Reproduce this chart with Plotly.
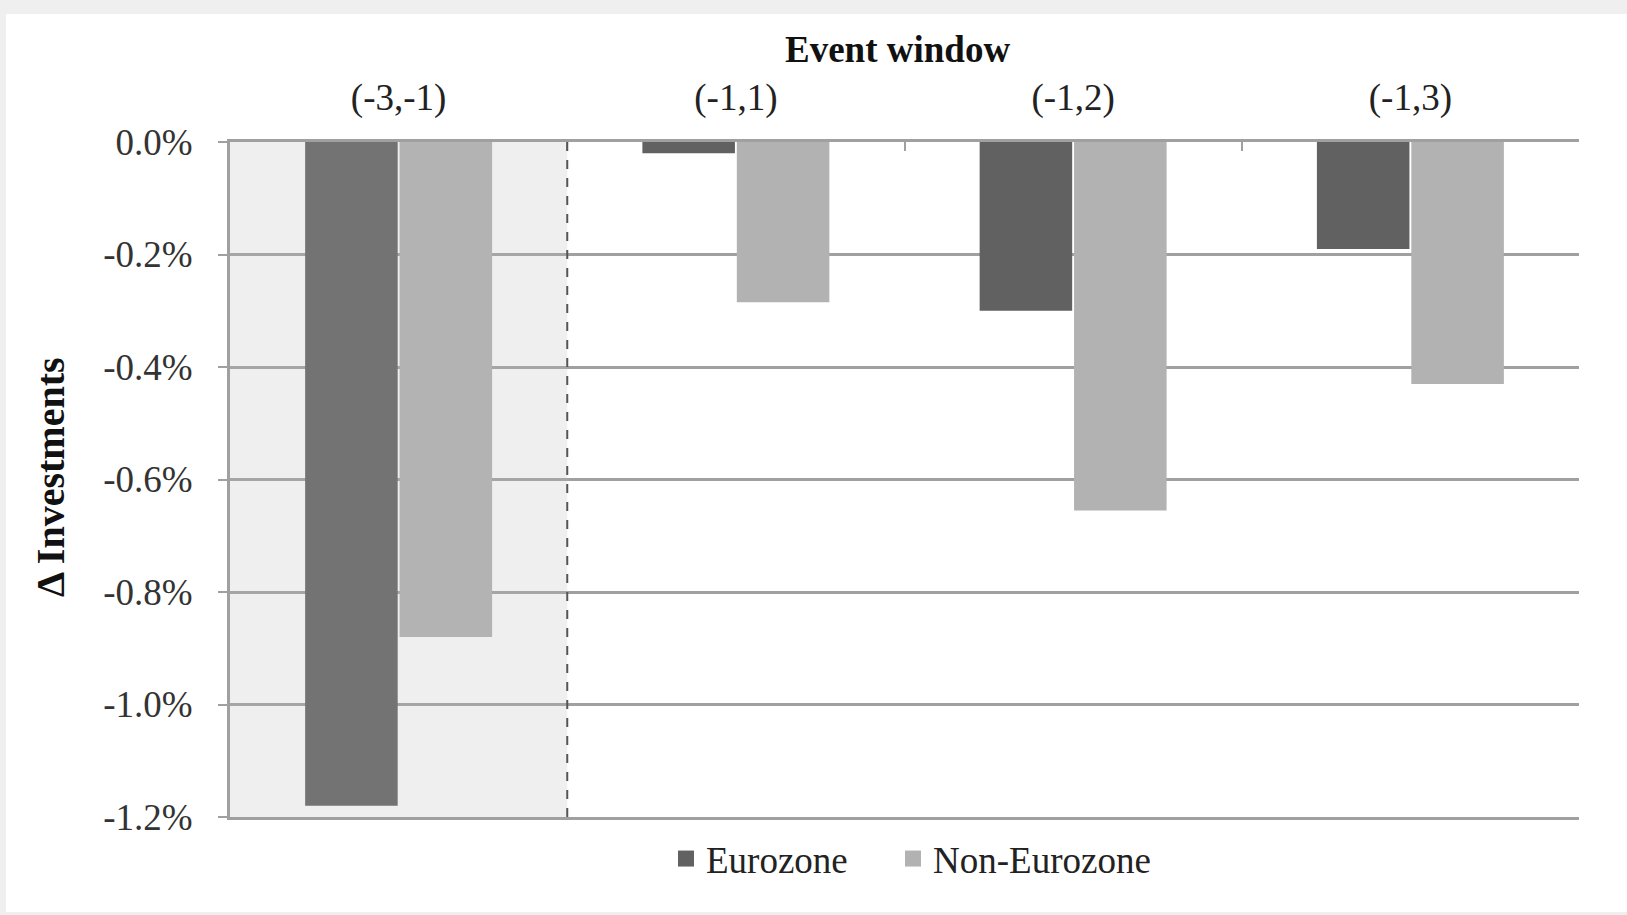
import plotly.graph_objects as go

# Event windows and mean change in investments (%) per group
windows = ["(-3,-1)", "(-1,1)", "(-1,2)", "(-1,3)"]
eurozone = [-1.18, -0.02, -0.30, -0.19]
non_eurozone = [-0.88, -0.285, -0.655, -0.43]
y_ticks = [0.0, -0.2, -0.4, -0.6, -0.8, -1.0, -1.2]
y_tick_labels = ["0.0%", "-0.2%", "-0.4%", "-0.6%", "-0.8%", "-1.0%", "-1.2%"]

# Canvas and plot-area geometry (pixels)
W, H = 1627, 915
ML, MR, MT, MB = 230, 48, 142, 98
PW = W - ML - MR
PH = H - MT - MB


def px(x):
    """pixel x -> paper x"""
    return (x - ML) / PW


def py(y):
    """pixel y (from top) -> paper y"""
    return (H - MB - y) / PH


FONT = "Liberation Serif"
GRID = "#a0a0a0"
DARK = "#616161"
LIGHT = "#b2b2b2"

# name, values, colour, legend id, legend left edge (px)
series = [("Eurozone", eurozone, DARK, "legend", 666),
          ("Non-Eurozone", non_eurozone, LIGHT, "legend2", 893)]

fig = go.Figure()
for name, vals, col, leg, _ in series:
    fig.add_bar(x=windows, y=vals, name=name, showlegend=False,
                legendgroup=name, marker=dict(color=col, line=dict(width=0)))
# legend entries drawn as larger square swatches
for name, vals, col, leg, _ in series:
    fig.add_scatter(x=[None], y=[None], mode="markers", name=name,
                    legendgroup=name, legend=leg,
                    marker=dict(symbol="square", size=16, color=col,
                                line=dict(width=0)))

legend_style = dict(orientation="h", xanchor="left", y=py(859),
                    yanchor="middle", bgcolor="rgba(0,0,0,0)",
                    font=dict(family=FONT, size=37, color="#222"),
                    itemwidth=30, itemsizing="trace")

fig.update_layout(
    width=W, height=H,
    margin=dict(l=ML, r=MR, t=MT, b=MB, pad=0),
    paper_bgcolor="#efefef",
    plot_bgcolor="rgba(0,0,0,0)",
    font=dict(family=FONT, size=37, color="#222"),
    barmode="group", bargap=0.44, bargroupgap=0.02,
    showlegend=True,
    legend=dict(legend_style, x=px(series[0][4])),
    legend2=dict(legend_style, x=px(series[1][4])),
    xaxis=dict(
        type="category", side="top", range=[-0.5, 3.5],
        showline=True, linecolor=GRID, linewidth=3, mirror=True,
        ticks="inside", tickson="boundaries", ticklen=9, tickwidth=2,
        tickcolor=GRID, showgrid=False, zeroline=False,
        tickfont=dict(family=FONT, size=37, color="#222"),
        ticklabelstandoff=14,
    ),
    yaxis=dict(
        range=[-1.2, 0], tickvals=y_ticks, ticktext=y_tick_labels,
        showgrid=True, gridcolor=GRID, gridwidth=2.5, zeroline=False,
        showline=True, linecolor=GRID, linewidth=3,
        ticks="outside", ticklen=9, tickwidth=2, tickcolor=GRID,
        tickfont=dict(family=FONT, size=37, color="#333"),
        ticklabelstandoff=18,
    ),
    shapes=[
        # white card behind the whole chart
        dict(type="rect", xref="paper", yref="paper", layer="below",
             x0=px(6), x1=px(W + 5), y0=py(912), y1=py(14),
             fillcolor="white", line=dict(width=0)),
        # shaded pre-event window
        dict(type="rect", xref="x", yref="y", layer="above",
             x0=-0.5, x1=0.5, y0=-1.2, y1=0,
             fillcolor="rgba(181,181,181,0.22)", line=dict(width=0)),
        # dashed separator after the pre-event window
        dict(type="line", xref="x", yref="y", layer="above",
             x0=0.5, x1=0.5, y0=-1.2, y1=0,
             line=dict(color="#555", width=2, dash="dash")),
    ],
    annotations=[
        dict(text="<b>Event window</b>", xref="paper", yref="paper",
             x=px(897), y=py(50), xanchor="center", yanchor="middle",
             showarrow=False, font=dict(family=FONT, size=37, color="#111")),
        dict(text="<b>Δ Investments</b>", xref="paper", yref="paper",
             x=px(50), y=py(477), xanchor="center", yanchor="middle",
             textangle=-90, showarrow=False,
             font=dict(family=FONT, size=40, color="#111")),
    ],
)

fig.write_html("out.html")
